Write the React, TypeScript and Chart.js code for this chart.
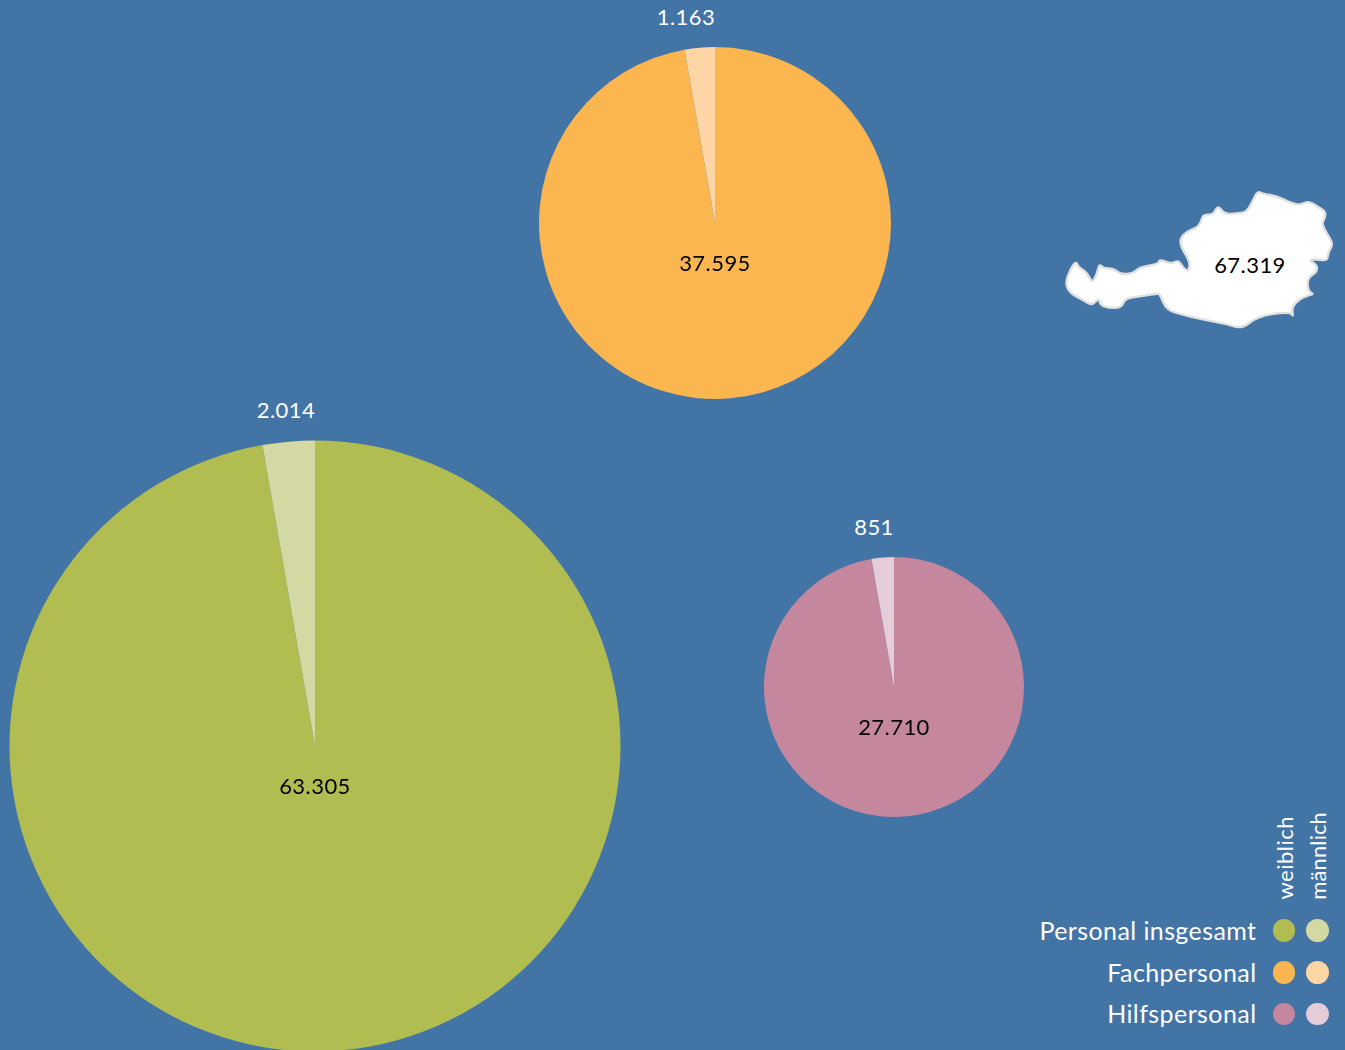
import React, { useEffect, useRef } from "react";
import { Chart, registerables } from "chart.js";

Chart.register(...registerables);

const groups = ["Personal insgesamt", "Fachpersonal", "Hilfspersonal"];
// Slice shares (percent) as drawn in the picture; the printed counts are below.
const sliceWeiblich = [97.25, 97.23, 97.23];
const sliceMaennlich = [2.75, 2.77, 2.77];
const weiblichLabels = ["63.305", "37.595", "27.710"];
const maennlichLabels = ["2.014", "1.163", "851"];
const gesamtLabel = "67.319";
const legendHeads = ["weiblich", "männlich"];

const colorsW = ["#b1bd51", "#fbb64f", "#c4879d"];
const colorsM = ["#d4d9a3", "#fed5a5", "#e4cdd9"];
const BG = "#4374a6";
const FONT = "Lato, 'Open Sans', sans-serif";

const pieGeom = [
  { cx: 315, cy: 746, r: 305.5, mx: 286, my: 410, wy: 786 },
  { cx: 715, cy: 223, r: 176, mx: 686, my: 17, wy: 263 },
  { cx: 894, cy: 687, r: 130, mx: 874, my: 527, wy: 727 },
];
const legendY = [930.7, 972.5, 1014];

const mapPts = [
  [78,243],[85,262],[105,272],[118,292],[127,307],[140,285],[148,251],[160,265],[190,265],[212,283],[250,280],[268,262],
  [325,252],[328,238],[365,252],[385,240],[400,265],[415,274],[420,250],[408,225],[393,200],[390,175],[410,155],[450,138],
  [458,103],[490,105],[503,75],[525,103],[560,100],[588,97],[605,70],[622,33],[640,42],[680,48],[725,70],[750,75],[775,63],
  [800,78],[827,95],[825,115],[815,130],[830,160],[850,192],[835,215],[832,242],[805,238],[775,240],[802,255],[800,277],
  [775,292],[772,320],[780,338],[792,342],[760,350],[725,378],[730,412],[720,395],[625,408],[575,447],[530,432],[455,418],
  [400,405],[350,390],[330,345],[325,340],[280,348],[225,355],[215,382],[180,385],[150,375],[148,353],[125,377],[100,360],
  [60,340],[46,310],[60,270],
];
const mid = (a: number[], b: number[]) => [(a[0] + b[0]) / 2, (a[1] + b[1]) / 2];
const mapPath = (() => {
  const n = mapPts.length;
  const s = mid(mapPts[n - 1], mapPts[0]);
  let d = `M${s[0]} ${s[1]}`;
  for (let i = 0; i < n; i++) {
    const m = mid(mapPts[i], mapPts[(i + 1) % n]);
    d += `Q${mapPts[i][0]} ${mapPts[i][1]} ${m[0]} ${m[1]}`;
  }
  return d + "Z";
})();

function Pie({ index }: { index: number }) {
  const ref = useRef<HTMLCanvasElement>(null);
  const g = pieGeom[index];
  const half = Math.ceil(g.r) + 2;
  useEffect(() => {
    const chart = new Chart(ref.current!, {
      type: "pie",
      data: {
        labels: ["weiblich", "männlich"],
        datasets: [
          {
            data: [sliceWeiblich[index], sliceMaennlich[index]],
            backgroundColor: [colorsW[index], colorsM[index]],
            borderWidth: 0,
          },
        ],
      },
      options: {
        responsive: false,
        animation: false,
        radius: g.r,
        layout: { padding: 0 },
        plugins: { legend: { display: false }, tooltip: { enabled: false } },
      } as any,
    });
    return () => chart.destroy();
  }, [index]);
  return (
    <canvas
      ref={ref}
      width={half * 2}
      height={half * 2}
      style={{ position: "absolute", left: g.cx - half, top: g.cy - half, width: half * 2, height: half * 2 }}
    />
  );
}

function Label({ x, y, text, color }: { x: number; y: number; text: string; color: string }) {
  return (
    <div
      style={{
        position: "absolute",
        left: x - 100,
        top: y - 20,
        width: 200,
        height: 40,
        lineHeight: "40px",
        textAlign: "center",
        color,
        fontSize: 22,
        letterSpacing: 0.45,
        fontFamily: FONT,
        whiteSpace: "nowrap",
      }}
    >
      {text}
    </div>
  );
}

export default function App() {
  return (
    <div style={{ position: "relative", width: 1345, height: 1050, background: BG, overflow: "hidden" }}>
      <style>{"html,body{margin:0;padding:0;overflow:hidden}"}</style>
      {pieGeom.map((_, i) => (
        <Pie key={i} index={i} />
      ))}
      {pieGeom.map((g, i) => (
        <React.Fragment key={i}>
          <Label x={g.mx} y={g.my} text={maennlichLabels[i]} color="#ffffff" />
          <Label x={g.cx} y={g.wy} text={weiblichLabels[i]} color="#000000" />
        </React.Fragment>
      ))}
      <svg
        viewBox="0 0 885 480"
        style={{ position: "absolute", left: 1050, top: 180, width: 295, height: 160 }}
      >
        <path d={mapPath} fill="#ffffff" stroke="#e0e0e0" strokeWidth={7} strokeLinejoin="round" />
      </svg>
      <Label x={1250} y={265} text={gesamtLabel} color="#000000" />
      {groups.map((name, i) => (
        <React.Fragment key={name}>
          <div
            style={{
              position: "absolute",
              right: 1345 - 1256.5,
              top: legendY[i] - 21,
              height: 40,
              lineHeight: "40px",
              color: "#ffffff",
              fontSize: 25,
              letterSpacing: 0.42,
              fontFamily: FONT,
              whiteSpace: "nowrap",
            }}
          >
            {name}
          </div>
          {[colorsW[i], colorsM[i]].map((c, j) => (
            <div
              key={j}
              style={{
                position: "absolute",
                left: 1284 + j * 33.3 - 11.4,
                top: legendY[i] - 11.4,
                width: 22.8,
                height: 22.8,
                borderRadius: "50%",
                background: c,
              }}
            />
          ))}
        </React.Fragment>
      ))}
      {legendHeads.map((t, j) => (
        <div
          key={t}
          style={{
            position: "absolute",
            left: 1285 + j * 33 - 15,
            bottom: 1050 - 900,
            width: 30,
            writingMode: "vertical-rl",
            transform: "rotate(180deg)",
            lineHeight: "30px",
            color: "#ffffff",
            fontSize: 22,
            letterSpacing: j === 0 ? 0.5 : 0.1,
            fontFamily: FONT,
            whiteSpace: "nowrap",
          }}
        >
          {t}
        </div>
      ))}
    </div>
  );
}
